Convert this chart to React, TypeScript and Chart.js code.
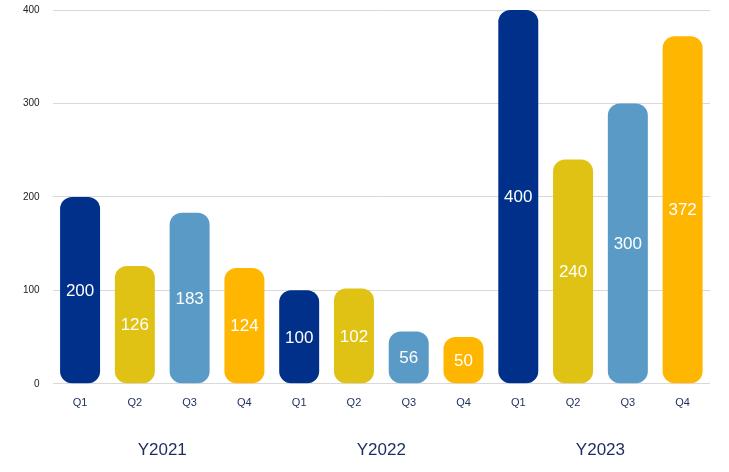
import React, { useEffect, useRef } from "react";
import { Chart, registerables } from "chart.js";

Chart.register(...registerables);

const quarters = ["Q1", "Q2", "Q3", "Q4", "Q1", "Q2", "Q3", "Q4", "Q1", "Q2", "Q3", "Q4"];
const years = ["Y2021", "Y2022", "Y2023"];
const values = [200, 126, 183, 124, 100, 102, 56, 50, 400, 240, 300, 372];
const quarterColors = ["#00308a", "#dfc214", "#5a9ac6", "#ffb600"];
const yTicks = [0, 100, 200, 300, 400];

const FONT = "'Liberation Sans', Arial, sans-serif";

const valueLabelPlugin = {
  id: "valueLabels",
  afterDatasetsDraw(chart: any) {
    const ctx = chart.ctx;
    const meta = chart.getDatasetMeta(0);
    ctx.save();
    ctx.fillStyle = "#ffffff";
    ctx.font = `17px ${FONT}`;
    ctx.textAlign = "center";
    ctx.textBaseline = "middle";
    meta.data.forEach((bar: any, i: number) => {
      const p = bar.getProps(["x", "y", "base"], true);
      ctx.fillText(String(values[i]), p.x, (p.y + p.base) / 2 + 1);
    });
    ctx.restore();
  },
};

const yearLabelPlugin = {
  id: "yearLabels",
  afterDraw(chart: any) {
    const ctx = chart.ctx;
    const xs = chart.scales.x;
    ctx.save();
    ctx.fillStyle = "#1c2d5e";
    ctx.font = `17px ${FONT}`;
    ctx.textAlign = "center";
    ctx.textBaseline = "middle";
    years.forEach((y, g) => {
      const a = xs.getPixelForValue(g * 4);
      const b = xs.getPixelForValue(g * 4 + 3);
      ctx.fillText(y, (a + b) / 2, 450);
    });
    ctx.restore();
  },
};

export default function App() {
  const ref = useRef<HTMLCanvasElement>(null);
  useEffect(() => {
    if (!ref.current) return;
    const chart = new Chart(ref.current, {
      type: "bar",
      data: {
        labels: quarters,
        datasets: [
          {
            data: values,
            backgroundColor: values.map((_, i) => quarterColors[i % 4]),
            borderRadius: 12,
            borderSkipped: false,
            barPercentage: 0.73,
            categoryPercentage: 1,
          },
        ],
      },
      options: {
        animation: false,
        responsive: false,
        maintainAspectRatio: false,
        layout: { padding: { top: 10, right: 19, bottom: 49, left: 10 } },
        plugins: { legend: { display: false }, tooltip: { enabled: false } },
        scales: {
          x: {
            grid: { display: false, drawTicks: false },
            border: { display: false },
            ticks: { color: "#1c2d5e", font: { family: FONT, size: 11 }, padding: 13 },
          },
          y: {
            min: 0,
            max: 400,
            afterBuildTicks(axis: any) {
              axis.ticks = yTicks.map((v) => ({ value: v }));
            },
            afterFit(axis: any) {
              axis.paddingTop = 0;
              axis.paddingBottom = 0;
            },
            grid: { color: "#d9d9d9", drawTicks: false },
            border: { display: false },
            ticks: { color: "#222222", font: { family: FONT, size: 10 }, padding: 13 },
          },
        },
      },
      plugins: [valueLabelPlugin, yearLabelPlugin],
    });
    return () => chart.destroy();
  }, []);
  return (
    <div style={{ position: "fixed", left: 0, top: 0, width: 729, height: 472, background: "#fff" }}>
      <canvas ref={ref} width={729} height={472} style={{ width: 729, height: 472 }} />
    </div>
  );
}
